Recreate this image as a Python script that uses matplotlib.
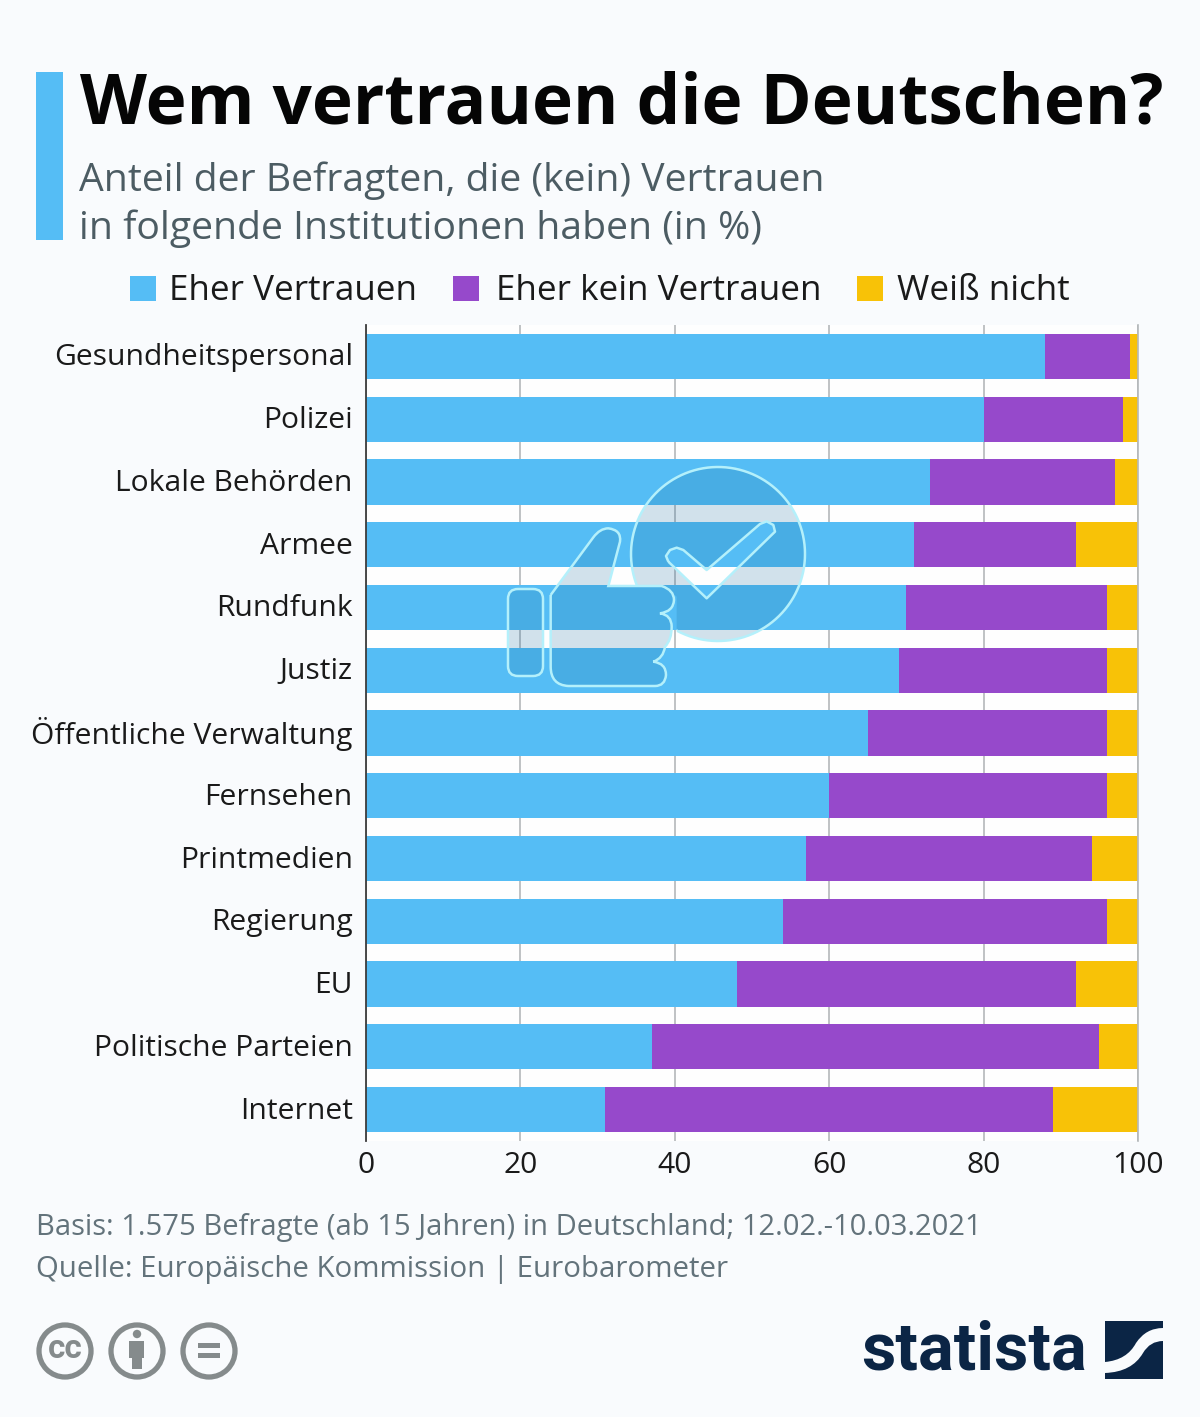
import matplotlib
matplotlib.use("Agg")
import matplotlib.pyplot as plt
import numpy as np
from matplotlib.patches import Circle, FancyBboxPatch, PathPatch, Polygon, Rectangle
from matplotlib.path import Path
from matplotlib.transforms import ScaledTranslation

plt.rcParams['font.family'] = ['Open Sans', 'DejaVu Sans']

categories = ["Gesundheitspersonal", "Polizei", "Lokale Behörden", "Armee", "Rundfunk", "Justiz",
              "Öffentliche Verwaltung", "Fernsehen", "Printmedien", "Regierung", "EU",
              "Politische Parteien", "Internet"]
vertrauen = [88, 80, 73, 71, 70, 69, 65, 60, 57, 54, 48, 37, 31]
kein_vertrauen = [11, 18, 24, 21, 26, 27, 31, 36, 37, 42, 44, 58, 58]
weiss_nicht = [1, 2, 3, 8, 4, 4, 4, 4, 6, 4, 8, 5, 11]
x_ticks = [0, 20, 40, 60, 80, 100]

BLUE = "#55bdf5"
PURPLE = "#9649cb"
YELLOW = "#f8c207"
BG = "#f9fbfd"
NAVY = "#0b2545"
W, H = 1200, 1417

fig = plt.figure(figsize=(12, 14.17), dpi=100, facecolor=BG)

# chart axes, placed in pixels
left, right, top, bottom = 366, 1138, 325, 1141
ax = fig.add_axes([left / W, 1 - bottom / H, (right - left) / W, (bottom - top) / H])
ax.set_facecolor("#fefefe")
y = np.arange(len(categories))
v = np.array(vertrauen)
k = np.array(kein_vertrauen)
w = np.array(weiss_nicht)
ax.barh(y, v, height=0.72, color=BLUE, zorder=2)
ax.barh(y, k, left=v, height=0.72, color=PURPLE, zorder=2)
ax.barh(y, w, left=v + k, height=0.72, color=YELLOW, zorder=2)
ax.set_xlim(0, 100)
ax.set_ylim(len(categories) - 0.5, -0.5)
ax.set_yticks(y)
ax.set_yticklabels(categories, fontsize=21.6, color="#1a1a1a")
ax.set_xticks(x_ticks)
ax.set_xticklabels(x_ticks, fontsize=21.6, color="#1a1a1a")
ax.tick_params(axis='y', length=0, pad=9.5)
ax.tick_params(axis='x', length=0, pad=7)
shift = ScaledTranslation(0, 2 / 100, fig.dpi_scale_trans)
for lab in ax.get_yticklabels():
    lab.set_transform(lab.get_transform() + shift)
ax.grid(axis='x', color="#b4b8ba", lw=1.2, zorder=1)
ax.set_axisbelow(True)
for s in ['top', 'bottom']:
    ax.spines[s].set_visible(False)
ax.spines['left'].set_color("#3c3c3c")
ax.spines['left'].set_linewidth(1.3)
ax.spines['right'].set_color("#b4b8ba")
ax.spines['right'].set_linewidth(1.2)

# overlay in pixel coordinates for everything around the chart
ov = fig.add_axes([0, 0, 1, 1], zorder=5)
ov.set_xlim(0, W)
ov.set_ylim(H, 0)
ov.axis('off')

ov.add_patch(Rectangle((36, 72), 27, 168, color=BLUE, lw=0))
ov.text(80, 105, "Wem vertrauen die Deutschen?", fontsize=49.9, fontweight='bold',
        color="#050505", va='center', ha='left')
ov.text(79, 181, "Anteil der Befragten, die (kein) Vertrauen", fontsize=28.2,
        color="#4c5c63", va='center')
ov.text(79, 229, "in folgende Institutionen haben (in %)", fontsize=28.2,
        color="#4c5c63", va='center')

# legend
for x0, tx, col, lab in [(130, 169, BLUE, "Eher Vertrauen"), (453, 496, PURPLE, "Eher kein Vertrauen"),
                         (857, 897, YELLOW, "Weiß nicht")]:
    ov.add_patch(Rectangle((x0, 276), 26, 25, color=col, lw=0))
    ov.text(tx, 291, lab, fontsize=25.2, color="#1a1a1a", va='center')

# footer
ov.text(36, 1228, "Basis: 1.575 Befragte (ab 15 Jahren) in Deutschland; 12.02.-10.03.2021",
        fontsize=21, color="#63737b", va='center')
ov.text(36, 1270, "Quelle: Europäische Kommission | Eurobarometer",
        fontsize=21.2, color="#63737b", va='center')

# watermark: circle with check mark, cut around the thumb
SHADE = "#14689c"
LINE = "#b4f0fb"
def zoom_pts(pts):
    return [(480 + a / 3, 450 + b / 3) for a, b in pts]

theta = np.linspace(0, 2 * np.pi, 120)
circ = np.c_[718 + 87 * np.cos(theta), 554 + 87 * np.sin(theta)]
check = zoom_pts([(558, 318), (570, 300), (590, 293), (610, 300), (680, 360), (840, 222), (860, 214),
                  (880, 225), (885, 245), (680, 445), (565, 335)])[::-1]
check_closed = np.array(check + [check[0]])
verts = np.vstack([circ, check_closed])
codes = [Path.MOVETO] + [Path.LINETO] * (len(circ) - 1) + [Path.MOVETO] + [Path.LINETO] * (len(check_closed) - 1)
clip = Polygon(zoom_pts([(400, -20), (1100, -20), (1100, 620), (590, 620), (590, 440),
                         (545, 405), (400, 405)]), transform=ov.transData)
for kw in [dict(facecolor=SHADE, alpha=0.19, lw=0), dict(facecolor='none', edgecolor=LINE, lw=1.8)]:
    p = PathPatch(Path(verts, codes), joinstyle='round', **kw)
    ov.add_patch(p)
    p.set_clip_path(clip)

# thumb
M, L, Q = Path.MOVETO, Path.LINETO, Path.CURVE3
thumb_steps = [(M, (212, 435)), (L, (340, 262)), (Q, (360, 235)), (Q, (385, 235)), (Q, (425, 240)), (Q, (420, 275)),
               (L, (385, 408)), (L, (545, 408)), (Q, (582, 420)), (Q, (582, 450)), (Q, (580, 485)), (Q, (540, 490)),
               (Q, (575, 495)), (Q, (575, 530)), (Q, (575, 570)), (Q, (555, 590)), (Q, (550, 625)), (Q, (520, 635)),
               (Q, (558, 640)), (Q, (558, 675)), (Q, (555, 708)), (Q, (525, 708)), (L, (265, 708)), (Q, (212, 705)),
               (Q, (212, 650)), (L, (212, 435))]
thumb = Path(zoom_pts([s[1] for s in thumb_steps]), [s[0] for s in thumb_steps])
for kw in [dict(facecolor=SHADE, alpha=0.19, lw=0), dict(facecolor='none', edgecolor=LINE, lw=1.8)]:
    ov.add_patch(PathPatch(thumb, **kw))
    ov.add_patch(FancyBboxPatch((515, 596), 21, 73, boxstyle="round,pad=7,rounding_size=10", **kw))

# licence icons
GREY = "#858b8c"
for cx in [65, 137, 209]:
    ov.add_patch(Circle((cx, 1351), 26, facecolor='none', edgecolor=GREY, lw=3.8))
ov.text(65, 1349, "cc", fontsize=24, fontweight='bold', color=GREY, ha='center', va='center',
        family=['Roboto', 'DejaVu Sans'])
ov.add_patch(Circle((137, 1334), 4.2, color=GREY, lw=0))
ov.add_patch(Rectangle((129, 1341), 15, 17, color=GREY, lw=0))
ov.add_patch(Rectangle((132, 1341), 10, 28, color=GREY, lw=0))
ov.add_patch(Rectangle((198, 1343), 22, 5, color=GREY, lw=0))
ov.add_patch(Rectangle((198, 1353), 22, 5, color=GREY, lw=0))

# statista logo
ov.text(1087, 1352, "statista", fontsize=48, fontweight='bold', color=NAVY, ha='right', va='center',
        family=['Roboto', 'DejaVu Sans'])
ov.add_patch(Rectangle((1105, 1321), 58, 58, color=NAVY, lw=0))
ov.add_patch(PathPatch(Path([(1163, 1328), (1146, 1328), (1136, 1343), (1127, 1360), (1105, 1362),
                             (1105, 1373), (1132, 1372), (1143, 1353), (1150, 1341), (1163, 1341),
                             (1163, 1328)],
                            [M, Q, Q, Q, Q, L, Q, Q, Q, Q, L]), facecolor=BG, lw=0))

fig.savefig("out.png", dpi=100, facecolor=BG)
